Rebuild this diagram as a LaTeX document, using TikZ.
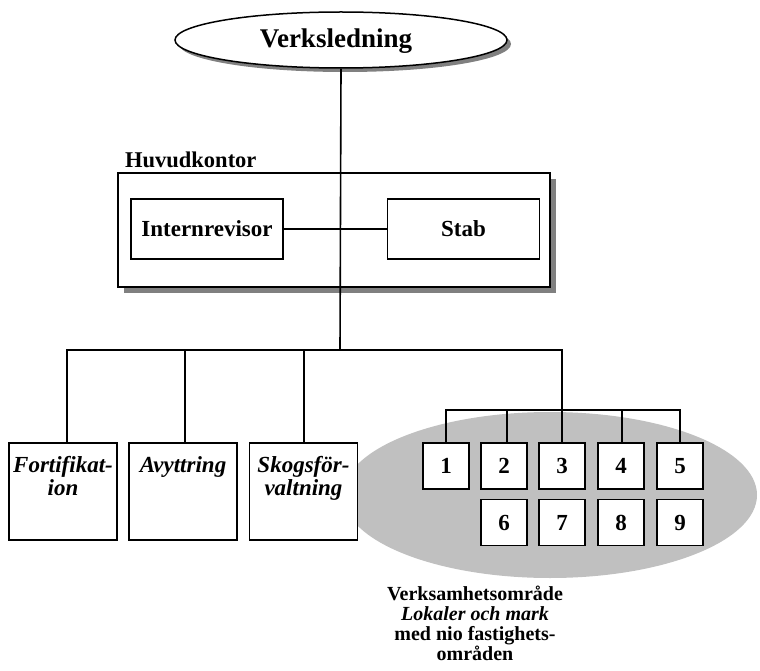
\documentclass[tikz,border=0pt]{standalone}
\usepackage{fontspec}
\setmainfont{Liberation Serif}
\usetikzlibrary{shapes.geometric}
\definecolor{shadowgrey}{HTML}{808080}
\definecolor{areagrey}{HTML}{C0C0C0}
\begin{document}
\begin{tikzpicture}[x=1pt,y=-1pt,
  every node/.style={font=\fontsize{23}{25}\selectfont\bfseries},
  conn/.style={line width=1.6pt},
  boxnode/.style={draw,line width=1.5pt,fill=white,rectangle,inner sep=0pt},
  orgbox/.style={boxnode,minimum width=108pt,minimum height=97pt},
  numbox/.style={boxnode,minimum width=46pt,minimum height=46pt},
  innerbox/.style={boxnode,minimum width=152pt,minimum height=60pt},
  boxtext/.style={anchor=north,align=center,inner sep=0pt,font=\fontsize{23}{23}\selectfont\bfseries\itshape},
]
\useasboundingbox (0,0) rectangle (760,671);
% grey area ellipse
\fill[areagrey] (550,495) ellipse [x radius=207, y radius=83];
% top ellipse with shadow
\fill[shadowgrey] (345,44) ellipse [x radius=166, y radius=28];
\node[draw,line width=1.5pt,fill=white,ellipse,minimum width=332pt,minimum height=56pt,inner sep=0pt] (vl) at (341,40) {};
\node[font=\fontsize{27}{29}\selectfont\bfseries] at (336,41) {Verksledning};
% Huvudkontor
\node[anchor=west,inner sep=0pt,font=\fontsize{22.5}{24}\selectfont\bfseries] (hklabel) at (125,160) {Huvudkontor};
\fill[shadowgrey] (124,179) rectangle (556,293);
\node[boxnode,minimum width=432pt,minimum height=114pt] (hk) at (334,230) {};
\node[innerbox] (ir) at (207,229) {Internrevisor};
\node[innerbox] (stab) at (463.5,229) {Stab};
\draw[conn] (ir.east) -- (stab.west);
% trunk
\coordinate (bar) at (340,350);
\draw[conn] (vl.south) -- (bar);
% level 2 boxes
\node[orgbox] (fort) at (63,491.5) {};
\node[orgbox] (avy) at (183,491.5) {};
\node[orgbox] (skog) at (303.5,491.5) {};
\node[boxtext] at ([yshift=-14]fort.north) {Fortifikat-\\ion};
\node[boxtext] at ([yshift=-14]avy.north) {Avyttring};
\node[boxtext] at ([yshift=-14]skog.north) {Skogsför-\\valtning};
% number boxes
\node[numbox] (n1) at (446,466) {1};
\node[numbox] (n2) at (504,466) {2};
\node[numbox] (n3) at (562,466) {3};
\node[numbox] (n4) at (621,466) {4};
\node[numbox] (n5) at (680,466) {5};
\node[numbox] (n6) at (504,522.5) {6};
\node[numbox] (n7) at (562,522.5) {7};
\node[numbox] (n8) at (621,522.5) {8};
\node[numbox] (n9) at (680,522.5) {9};
% main bar
\coordinate (barR) at (562,350);
\coordinate (sub) at (562,410);
\draw[conn] ([xshift=4]fort.north) |- (barR) -- (sub);
\draw[conn] ([xshift=2]avy.north) -- ([xshift=2]avy.north |- bar);
\draw[conn] ([xshift=0.5]skog.north) -- ([xshift=0.5]skog.north |- bar);
\draw[conn] (n1.north) |- (n5.north |- sub) -- (n5.north);
\draw[conn] ([xshift=3]n2.north) -- ([xshift=3]n2.north |- sub);
\draw[conn] (n3.north) -- (sub);
\draw[conn] ([xshift=1]n4.north) -- ([xshift=1]n4.north |- sub);
% caption
\node[align=center,font=\fontsize{20}{20}\selectfont\bfseries] (cap) at (475,623)
  {Verksamhetsområde\\\textit{Lokaler och mark}\\med nio fastighets-\\områden};
\end{tikzpicture}
\end{document}
